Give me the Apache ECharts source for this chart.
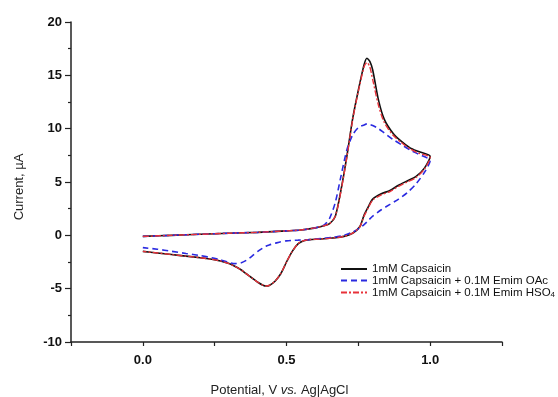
<!DOCTYPE html>
<html>
<head>
<meta charset="utf-8">
<script src="https://cdn.jsdelivr.net/npm/echarts@6/dist/echarts.min.js"></script>
<style>html,body{margin:0;padding:0;background:#fff}#c{width:558px;height:397px}</style>
</head>
<body>
<div id="c"></div>
<script>
// Potential scan (V): forward 0 -> 1.0, then reverse 1.0 -> 0
const potential = [0.00,0.10,0.20,0.30,0.40,0.50,0.55,0.60,0.63,0.65,0.67,0.69,0.71,0.73,0.75,0.77,0.78,0.79,0.80,0.82,0.84,0.87,0.90,0.93,0.96,1.00,
  0.98,0.95,0.92,0.89,0.86,0.83,0.80,0.785,0.77,0.755,0.73,0.70,0.66,0.62,0.58,0.56,0.54,0.52,0.50,0.48,0.46,0.44,0.43,0.42,0.40,0.38,0.36,0.34,0.32,0.30,0.27,0.24,0.20,0.15,0.10,0.05,0.00];

// Current (µA)
const capsaicin = [-0.1,0.0,0.1,0.2,0.28,0.42,0.5,0.7,0.9,1.1,1.8,4.3,7.4,10.9,13.6,16.0,16.6,16.3,15.5,12.7,10.9,9.6,8.8,8.2,7.85,7.4,
  6.3,5.5,5.1,4.7,4.2,3.9,3.4,2.7,1.9,0.8,0.2,-0.1,-0.25,-0.35,-0.4,-0.5,-0.8,-1.5,-2.5,-3.6,-4.3,-4.7,-4.75,-4.7,-4.4,-4.0,-3.6,-3.2,-2.9,-2.65,-2.4,-2.25,-2.1,-1.95,-1.8,-1.65,-1.5];
const capsaicinOAc = [-0.1,0.0,0.1,0.2,0.28,0.42,0.5,0.7,0.95,1.6,3.1,5.6,8.0,9.4,10.1,10.35,10.45,10.4,10.3,10.0,9.6,9.0,8.5,8.0,7.6,7.0,
  5.9,4.8,4.0,3.4,2.9,2.4,1.8,1.4,1.0,0.7,0.3,0.0,-0.2,-0.3,-0.4,-0.42,-0.45,-0.48,-0.52,-0.6,-0.75,-0.9,-1.0,-1.15,-1.5,-1.95,-2.35,-2.6,-2.65,-2.55,-2.3,-2.1,-1.9,-1.7,-1.5,-1.3,-1.15];
const capsaicinHSO4 = [-0.1,0.0,0.1,0.2,0.28,0.42,0.5,0.7,0.9,1.1,1.8,4.2,7.3,10.8,13.5,15.8,16.2,15.8,14.6,12.2,10.6,9.4,8.7,8.1,7.7,7.3,
  6.2,5.4,5.0,4.6,4.1,3.8,3.3,2.6,1.8,0.8,0.2,-0.1,-0.25,-0.35,-0.4,-0.5,-0.8,-1.5,-2.5,-3.6,-4.3,-4.7,-4.75,-4.7,-4.4,-4.0,-3.6,-3.2,-2.9,-2.65,-2.4,-2.25,-2.1,-1.95,-1.8,-1.65,-1.5];

const seriesNames = ['1mM Capsaicin','1mM Capsaicin + 0.1M Emim OAc','1mM Capsaicin + 0.1M Emim HSO4'];
const xTicks = [0.0, 0.5, 1.0];

const toPairs = arr => potential.map((p, i) => [p, arr[i]]);
const font = 'Liberation Sans, Arial, sans-serif';

const chart = echarts.init(document.getElementById('c'));
chart.setOption({
  animation: false,
  backgroundColor: '#fff',
  grid: { left: 71, right: 56, top: 22, bottom: 55, containLabel: false, outerBoundsMode: 'none' },
  legend: {
    orient: 'vertical', left: 335, top: 258,
    itemWidth: 26, itemHeight: 10, itemGap: -0.5,
    data: seriesNames,
    itemStyle: { opacity: 0 },
    formatter: n => n.endsWith('HSO4') ? '{t|' + n.slice(0, -1) + '}{s|4}' : n,
    textStyle: {
      fontFamily: font, fontSize: 11.5, lineHeight: 11, color: '#111',
      rich: { t: { fontFamily: font, fontSize: 11.5, lineHeight: 11, color: '#111' },
              s: { fontFamily: font, fontSize: 8, lineHeight: 8, color: '#111', padding: [5,0,0,0] } }
    }
  },
  xAxis: {
    type: 'value', min: -0.25, max: 1.25, interval: 0.25,
    name: '{n|Potential, V }{i|vs.}{n| Ag|AgCl}',
    nameLocation: 'middle', nameGap: 42,
    nameTextStyle: { rich: { n: { fontFamily: font, fontSize: 13, color: '#222' },
                             i: { fontFamily: font, fontSize: 13, fontStyle: 'italic', color: '#222' } },
                     padding: [0, 14, 0, 0] },
    axisLine: { onZero: false, lineStyle: { color: '#222', width: 1.5 } },
    axisTick: { show: true, inside: false, length: 4, lineStyle: { color: '#222', width: 1.2 } },
    splitLine: { show: false },
    axisLabel: {
      margin: 12, fontFamily: font, fontSize: 13, fontWeight: 'bold', color: '#111',
      formatter: v => xTicks.some(t => Math.abs(t - v) < 1e-6) ? v.toFixed(1) : ''
    }
  },
  yAxis: {
    type: 'value', min: -10, max: 20, interval: 5,
    name: 'Current, µA', nameLocation: 'middle', nameGap: 45,
    nameTextStyle: { fontFamily: font, fontSize: 13, color: '#222', padding: [0, 0, 0, -10] },
    axisLine: { show: true, onZero: false, lineStyle: { color: '#222', width: 1.5 } },
    axisTick: { show: true, inside: false, length: 6, lineStyle: { color: '#222', width: 1.2 } },
    minorTick: { show: true, splitNumber: 2, length: 3, lineStyle: { color: '#222', width: 1.2 } },
    splitLine: { show: false },
    axisLabel: { margin: 9, fontFamily: font, fontSize: 13, fontWeight: 'bold', color: '#111' }
  },
  series: [
    { name: seriesNames[0], type: 'line', data: toPairs(capsaicin), symbol: 'none', smooth: 0.25,
      lineStyle: { color: '#111', width: 1.6, type: 'solid' }, itemStyle: { color: '#111' } },
    { name: seriesNames[1], type: 'line', data: toPairs(capsaicinOAc), symbol: 'none', smooth: 0.25,
      lineStyle: { color: '#2a2ae0', width: 1.6, type: [6, 4] }, itemStyle: { color: '#2a2ae0' } },
    { name: seriesNames[2], type: 'line', data: toPairs(capsaicinHSO4), symbol: 'none', smooth: 0.25,
      lineStyle: { color: '#e8323a', width: 1.4, type: [6, 2, 2, 2] }, itemStyle: { color: '#e8323a' } }
  ]
});
</script>
</body>
</html>
